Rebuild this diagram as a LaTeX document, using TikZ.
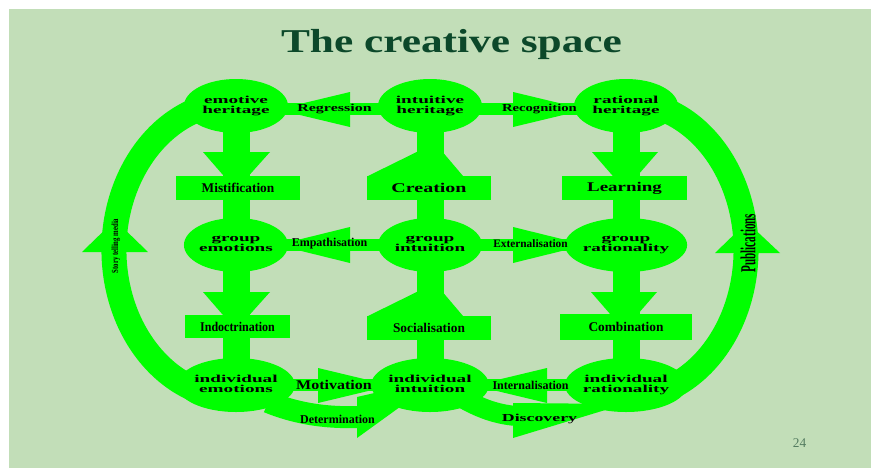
\documentclass[tikz,border=0pt]{standalone}
\usepackage{fontspec}
\setmainfont{Liberation Serif}
\usepackage{graphicx}
\usetikzlibrary{shapes.geometric}
\definecolor{bgc}{RGB}{194,222,184}
\definecolor{grn}{RGB}{0,255,0}
\definecolor{titlegreen}{RGB}{12,72,42}
\definecolor{pagenum}{RGB}{84,124,96}
\pgfdeclarelayer{bgl}
\pgfdeclarelayer{shp}
\pgfsetlayers{bgl,shp,main}
\newcommand\wl[2]{\scalebox{1.8}[1]{\fontsize{8}{6.8}\selectfont\bfseries\begin{tabular}{@{}c@{}}#1\\#2\end{tabular}}}
\newcommand\sx[2]{\scalebox{#1}[1]{#2}}
\begin{document}
\begin{tikzpicture}[x=0.75pt,y=-0.75pt,
  ell/.style={ellipse, fill=grn, minimum width=78pt, minimum height=40.5pt, inner sep=0pt},
  box/.style={rectangle, fill=grn, inner sep=0pt, font=\fontsize{10}{12}\selectfont\bfseries},
  vshaft/.style={grn, line width=20.25pt},
  hshaft/.style={grn, line width=9pt},
  band/.style={grn, line width=18.75pt},
  head/.style={fill=grn, draw=none},
  lab/.style={inner sep=0pt},
]
\useasboundingbox (0,0) rectangle (871,468);
\begin{pgfonlayer}{bgl}
\fill[white] (0,0) rectangle (871,468);
\fill[bgc] (9,9) rectangle (871,468);
\end{pgfonlayer}

% ellipses
\node[ell] (eh) at (236,106) {\wl{emotive}{heritage}};
\node[ell] (ih) at (430,106) {\wl{intuitive}{heritage}};
\node[ell] (rh) at (626,106) {\wl{rational}{heritage}};
\node[ell] (ge) at (236,245) {\wl{group}{emotions}};
\node[ell] (gi) at (430,245) {\wl{group}{intuition}};
\node[ell] (gra) at (626,245) {\wl{group}{rationality}};
\node[ell] (ie) at (236,385) {\wl{individual}{emotions}};
\node[ell] (ii) at (430,385) {\wl{individual}{intuition}};
\node[ell] (ir) at (626,385) {\wl{individual}{rationality}};

% boxes
\node[box, minimum width=93pt, minimum height=18pt] (mist) at (238,188) {Mistification};
\node[box, minimum width=93pt, minimum height=18pt] (crea) at (429,188) {\sx{1.5}{Creation}};
\node[box, minimum width=93.75pt, minimum height=18pt] (lear) at (624.5,188) {\sx{1.42}{Learning}};
\node[box, minimum width=78.75pt, minimum height=17.25pt] (indo) at (237.5,326.5) {\sx{0.9}{Indoctrination}};
\node[box, minimum width=93pt, minimum height=18pt] (soci) at (429,328) {Socialisation};
\node[box, minimum width=99pt, minimum height=19.5pt] (comb) at (626,327) {Combination};

\begin{pgfonlayer}{shp}
% outer arcs
\draw[band] ([shift={(-35.7,2.5)}]eh.center) arc[start angle=-107, end angle=-253, x radius=122, y radius=148];
\draw[band] ([shift={(35.1,2.5)}]rh.center) arc[start angle=-73, end angle=73, x radius=120, y radius=148];
\fill[head] (82,252) -- (148,252) -- (115,220) -- cycle;
\fill[head] (715,253) -- (780,253) -- (747,222) -- cycle;
% vertical shafts
\draw[vshaft] (eh.center) -- (ie.center);
\draw[vshaft] (ih.center) -- (ii.center);
\draw[vshaft] (rh.center) -- (ir.center);
% horizontal shafts
\draw[hshaft] ([yshift=-2.25pt]eh.center) -- ([yshift=-2.25pt]rh.center);
\draw[hshaft] (ge.center) -- (gra.center);
\draw[hshaft] (ie.center) -- (ir.center);
% vertical heads
\fill[head] (203,152) -- (270,152) -- (236,190) -- cycle;
\fill[head] (203,292) -- (270,292) -- (236,330) -- cycle;
\fill[head] (592,152) -- (658,152) -- (625,190) -- cycle;
\fill[head] (591,292) -- (657,292) -- (624,330) -- cycle;
\fill[head] (368,176) -- (463,176) -- (435,143) -- cycle;
\fill[head] (368,316) -- (463,316) -- (435,283) -- cycle;
% horizontal heads
\fill[head] (350,92) -- (350,127) -- (277,109.5) -- cycle;
\fill[head] (513,92) -- (513,127) -- (586,109.5) -- cycle;
\fill[head] (350,227) -- (350,263) -- (277,245) -- cycle;
\fill[head] (513,227) -- (513,263) -- (586,245) -- cycle;
\fill[head] (318,368) -- (318,403) -- (391,385.5) -- cycle;
\fill[head] (547,368) -- (547,403) -- (474,385.5) -- cycle;
% Determination
\draw[grn, line width=16.5pt] ([shift={(32,17)}]ie.center) .. controls (300,415) and (330,418) .. (360,417);
\fill[head] (357,397) -- (440,378) -- (357,438) -- cycle;
% Discovery
\draw[grn, line width=15pt] ([shift={(32,13)}]ii.center) .. controls (480,408) and (495,414) .. (516,416);
\fill[head] (513,403) -- (625,404) -- (513,438) -- cycle;
\end{pgfonlayer}

% labels
\node[lab, font=\fontsize{8}{9}\selectfont\bfseries] (tReg) at (334.5,109) {\sx{1.5}{Regression}};
\node[lab, font=\fontsize{8}{9}\selectfont\bfseries] (tRec) at (539.5,109) {\sx{1.37}{Recognition}};
\node[lab, font=\fontsize{9}{10}\selectfont\bfseries] (tEmp) at (329.5,244) {Empathisation};
\node[lab, font=\fontsize{8.5}{10}\selectfont\bfseries] (tExt) at (530.5,244) {Externalisation};
\node[lab, font=\fontsize{10}{12}\selectfont\bfseries] (tMot) at (334,385) {\sx{1.2}{Motivation}};
\node[lab, font=\fontsize{9}{10}\selectfont\bfseries] (tInt) at (530.5,385) {Internalisation};
\node[lab, font=\fontsize{9}{10}\selectfont\bfseries] (tDet) at (337.5,419) {Determination};
\node[lab, font=\fontsize{8}{9}\selectfont\bfseries] (tDis) at (539.5,419) {\sx{1.67}{Discovery}};
\node[lab, rotate=90] (tStory) at (116,246) {\sx{0.72}{\fontsize{7}{8}\selectfont\bfseries Story telling media}};
\node[lab, rotate=90] (tPub) at (748,243) {\sx{0.52}{\fontsize{16}{16}\selectfont\bfseries Publications}};

\node[lab, anchor=base, text=titlegreen, font=\fontsize{25}{30}\selectfont\bfseries] (title) at (451.5,52) {\sx{1.3}{The creative space}};
\node[lab, text=pagenum, font=\fontsize{10}{12}\selectfont] (pnum) at (799.5,443.5) {24};
\end{tikzpicture}
\end{document}
